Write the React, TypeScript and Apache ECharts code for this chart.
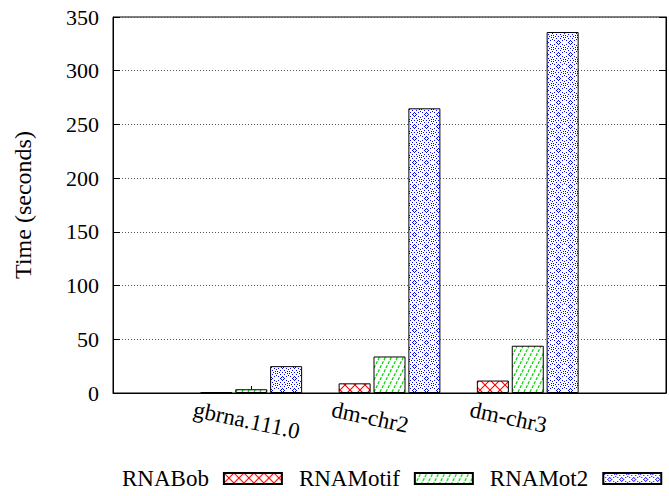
import React, { useEffect, useRef } from 'react';
import * as echarts from 'echarts';

const categories = ['gbrna.111.0', 'dm-chr2', 'dm-chr3'];
const seriesNames = ['RNABob', 'RNAMotif', 'RNAMot2'];
const rnaBob = [0.6, 9, 11.6];
const rnaMotif = [3.5, 34, 44];
const rnaMot2 = [25, 265, 336];
const yMin = 0;
const yMax = 350;
const yInterval = 50;
const yName = 'Time (seconds)';

const FONT = 'Liberation Serif';

function makeCanvas(w: number, h: number, draw: (ctx: CanvasRenderingContext2D) => void) {
  const c = document.createElement('canvas');
  c.width = w;
  c.height = h;
  const ctx = c.getContext('2d')!;
  ctx.fillStyle = '#ffffff';
  ctx.fillRect(0, 0, w, h);
  draw(ctx);
  return c;
}

function redPattern() {
  return makeCanvas(10, 10, (ctx) => {
    ctx.strokeStyle = '#ff0000';
    ctx.lineWidth = 1.1;
    ctx.beginPath();
    ctx.moveTo(0, 0);
    ctx.lineTo(10, 10);
    ctx.moveTo(10, 0);
    ctx.lineTo(0, 10);
    ctx.stroke();
  });
}

function greenPattern() {
  return makeCanvas(6, 12, (ctx) => {
    ctx.strokeStyle = '#00d000';
    ctx.lineWidth = 1.2;
    ctx.setLineDash([3, 1.5]);
    ctx.beginPath();
    ctx.moveTo(0, 12);
    ctx.lineTo(6, 0);
    ctx.moveTo(-3, 6);
    ctx.lineTo(0, 0);
    ctx.moveTo(6, 12);
    ctx.lineTo(9, 6);
    ctx.stroke();
  });
}

function bluePattern() {
  return makeCanvas(12, 12, (ctx) => {
    ctx.fillStyle = '#0000ff';
    const pts: [number, number][] = [];
    for (let i = 0; i < 6; i += 2) {
      pts.push([6 + i, i]);
      pts.push([6 - i, i]);
      pts.push([6 + i, 12 - i]);
      pts.push([6 - i, 12 - i]);
    }
    pts.push([5, 5], [7, 5], [5, 7], [7, 7], [6, 4], [4, 6], [8, 6], [6, 8]);
    pts.push([1, 1], [11, 1], [1, 11], [11, 11], [0, 3], [3, 0], [9, 0], [0, 9]);
    pts.forEach(([x, y]) => ctx.fillRect(x, y, 1, 1));
  });
}

export default function App() {
  const ref = useRef<HTMLDivElement>(null);
  useEffect(() => {
    if (!ref.current) return;
    const chart = echarts.init(ref.current, null, { renderer: 'svg' });
    const xData = ['', ...categories, ''];
    const pad = (arr: number[]) => [null, ...arr, null];
    const patterns = [redPattern(), greenPattern(), bluePattern()];
    const values = [rnaBob, rnaMotif, rnaMot2];
    const txt = (size: number) => ({ fontSize: size, color: '#000', fontFamily: FONT, fontWeight: 'normal' as const });

    chart.setOption({
      animation: false,
      backgroundColor: '#ffffff',
      textStyle: { fontFamily: FONT, fontSize: 22 },
      grid: [
        { left: 113, right: 3, top: 17, bottom: 103, show: true, borderColor: '#000', borderWidth: 1, backgroundColor: 'transparent' },
        { left: 113 - 55, right: 3 + 55, top: 17, bottom: 103, show: false },
      ],
      xAxis: [
        {
          type: 'category',
          gridIndex: 0,
          data: xData,
          boundaryGap: false,
          axisLine: { show: true, lineStyle: { color: '#000', width: 1 } },
          axisTick: { show: true, inside: true, length: 7, interval: 0, lineStyle: { color: '#000' } },
          axisLabel: { show: false },
          splitLine: { show: false },
        },
        {
          type: 'category',
          gridIndex: 1,
          data: xData,
          boundaryGap: false,
          axisLine: { show: false },
          axisTick: { show: false },
          axisLabel: {
            show: true,
            interval: 0,
            rotate: -12,
            align: 'left',
            verticalAlign: 'top',
            margin: 5,
            ...txt(23),
          },
          splitLine: { show: false },
        },
      ],
      yAxis: [
        {
          type: 'value',
          gridIndex: 0,
          min: yMin,
          max: yMax,
          interval: yInterval,
          name: yName,
          nameLocation: 'middle',
          nameGap: 78,
          nameRotate: 90,
          nameTextStyle: txt(24),
          axisLine: { show: true, lineStyle: { color: '#000', width: 1 } },
          axisTick: { show: true, inside: true, length: 7, lineStyle: { color: '#000' } },
          axisLabel: { show: true, margin: 14, ...txt(22) },
          splitLine: { show: true, lineStyle: { color: '#555', type: [1, 2], width: 1 } },
        },
        {
          type: 'value',
          gridIndex: 0,
          position: 'right',
          min: yMin,
          max: yMax,
          interval: yInterval,
          axisLine: { show: true, lineStyle: { color: '#000', width: 1 } },
          axisTick: { show: true, inside: true, length: 7, lineStyle: { color: '#000' } },
          axisLabel: { show: false },
          splitLine: { show: false },
        },
        {
          type: 'value',
          gridIndex: 1,
          min: yMin,
          max: yMax,
          show: false,
        },
      ],
      legend: {
        data: seriesNames,
        icon: 'rect',
        left: 122,
        top: 467,
        width: 560,
        padding: 0,
        align: 'right',
        itemWidth: 58,
        itemHeight: 11,
        itemGap: 16,
        textStyle: { ...txt(23), padding: [0, 10, 0, 0] },
      },
      series: seriesNames.map((name, i) => ({
        name,
        type: 'bar',
        xAxisIndex: 0,
        yAxisIndex: 0,
        data: pad(values[i]),
        barWidth: 32,
        barGap: '9%',
        itemStyle: {
          color: { image: patterns[i], repeat: 'repeat' },
          borderColor: '#000',
          borderWidth: 1,
        },
      })),
    });
    return () => chart.dispose();
  }, []);
  return <div ref={ref} style={{ position: 'fixed', left: 0, top: 0, width: 669, height: 496, fontFamily: FONT }} />;
}
